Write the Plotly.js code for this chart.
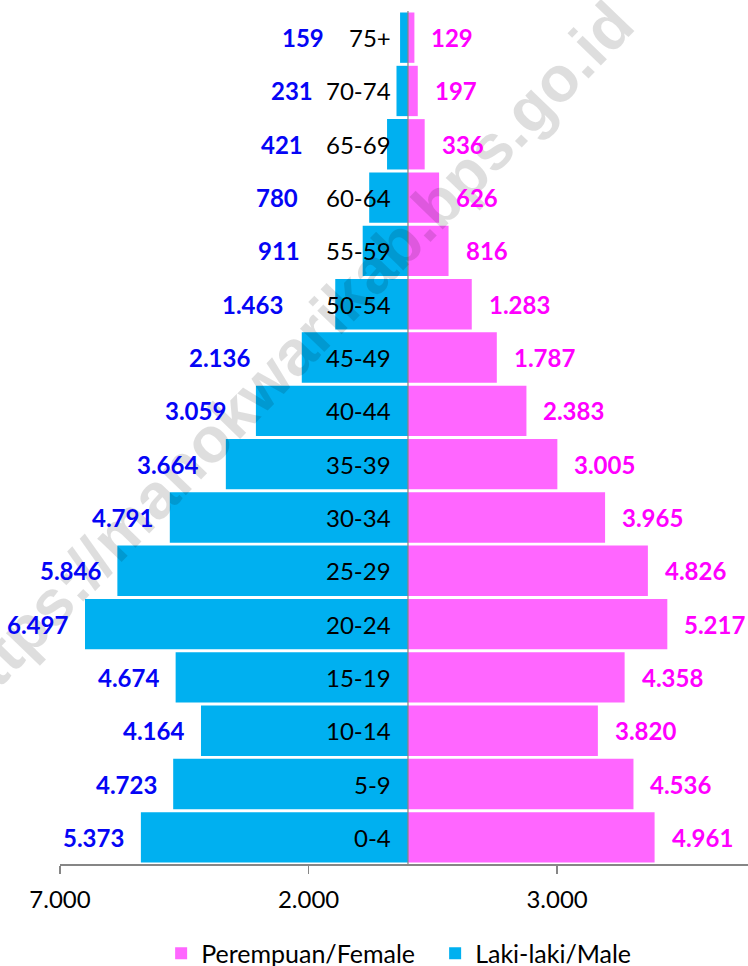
<!DOCTYPE html>
<html>
<head>
<meta charset="utf-8">
<script src="https://cdn.plot.ly/plotly-3.0.1.min.js"></script>
<style>
  html, body { margin: 0; padding: 0; background: #ffffff; }
  #chart { width: 748px; height: 966px; }
</style>
</head>
<body>
<div id="chart"></div>
<script>
// Population by age group and sex (persons)
const ageGroups = ["0-4", "5-9", "10-14", "15-19", "20-24", "25-29", "30-34", "35-39",
                   "40-44", "45-49", "50-54", "55-59", "60-64", "65-69", "70-74", "75+"];
const male   = [5373, 4723, 4164, 4674, 6497, 5846, 4791, 3664,
                3059, 2136, 1463, 911, 780, 421, 231, 159];
const female = [4961, 4536, 3820, 4358, 5217, 4826, 3965, 3005,
                2383, 1787, 1283, 816, 626, 336, 197, 129];
const seriesNames = ["Perempuan/Female", "Laki-laki/Male"];
const tickVals = [-7000, -2000, 3000];
const watermarkText = "https://manokwarikab.bps.go.id";

// Pixel gap between each male bar end and its value label (bottom to top)
const maleLabelGap = [17, 16, 17, 17, 17, 16, 17, 28, 30, 52, 52, 63, 71, 84, 83, 76];

// Thousands separator as a dot: 5373 -> "5.373"
function fmt(v) {
  return String(Math.abs(v)).replace(/\B(?=(\d{3})+(?!\d))/g, ".");
}

const W = 748, H = 966;
const M = { l: 60, r: 0, t: 11, b: 102, autoexpand: false };
const plotW = W - M.l - M.r, plotH = H - M.t - M.b;
const FONT = "Lato, Carlito, Calibri, 'Open Sans', sans-serif";
const AXIS_GREY = "#868686";

const traces = [
  {
    type: "bar", orientation: "h", name: seriesNames[0],
    y: ageGroups, x: female,
    marker: { color: "#FF66FF", line: { width: 0 } },
    hoverinfo: "skip"
  },
  {
    type: "bar", orientation: "h", name: seriesNames[1],
    y: ageGroups, x: male.map(v => -v),
    marker: { color: "#00B0F0", line: { width: 0 } },
    hoverinfo: "skip"
  }
];

const annotations = [];

// Diagonal site watermark (placed in pixel terms, converted to paper units)
const wmX = 288, wmY = 358;
annotations.push({
  xref: "paper", yref: "paper",
  x: (wmX - M.l) / plotW, y: (H - M.b - wmY) / plotH,
  xanchor: "center", yanchor: "middle",
  text: watermarkText, showarrow: false, textangle: -46,
  font: { family: "'Liberation Sans', Arial, sans-serif", size: 64, weight: 700, color: "rgba(0,0,0,0.13)" }
});

ageGroups.forEach((g, i) => {
  // age group label, right-aligned just left of the centre line
  annotations.push({
    xref: "x", yref: "y", x: 0, y: g, xanchor: "right", yanchor: "middle",
    xshift: -15, text: g, showarrow: false,
    font: { family: FONT, size: 24, color: "#000000" }
  });
  // male value label
  annotations.push({
    xref: "x", yref: "y", x: -male[i], y: g, xanchor: "right", yanchor: "middle",
    xshift: -maleLabelGap[i] + 2, text: fmt(male[i]), showarrow: false,
    font: { family: FONT, size: 24, weight: 700, color: "#0505F5" }
  });
  // female value label
  annotations.push({
    xref: "x", yref: "y", x: female[i], y: g, xanchor: "left", yanchor: "middle",
    xshift: 15, text: fmt(female[i]), showarrow: false,
    font: { family: FONT, size: 24, weight: 700, color: "#FF00FF" }
  });
});

const layout = {
  width: W, height: H,
  margin: M,
  paper_bgcolor: "#ffffff", plot_bgcolor: "#ffffff",
  font: { family: FONT, size: 24, color: "#000000" },
  barmode: "relative",
  bargap: 0.056,
  showlegend: true,
  legend: {
    orientation: "h", x: 0.147, xanchor: "left", y: -0.078, yanchor: "top",
    entrywidth: 229, entrywidthmode: "pixels",
    font: { family: FONT, size: 25, color: "#000000" },
    traceorder: "normal", bgcolor: "rgba(0,0,0,0)"
  },
  xaxis: {
    range: [-7000, 6840],
    showgrid: false, zeroline: false,
    showline: true, linecolor: AXIS_GREY, linewidth: 1.5,
    ticks: "outside", ticklen: 8, tickwidth: 1.5, tickcolor: AXIS_GREY,
    ticklabelstandoff: 6,
    tickvals: tickVals, ticktext: tickVals.map(fmt),
    tickfont: { family: FONT, size: 24, color: "#000000" },
    fixedrange: true
  },
  yaxis: {
    type: "category", categoryorder: "array", categoryarray: ageGroups,
    range: [-0.5, ageGroups.length - 0.5],
    showticklabels: false, showgrid: false, zeroline: false, showline: false,
    ticks: "", fixedrange: true
  },
  shapes: [{
    type: "line", xref: "x", yref: "paper", x0: 0, x1: 0, y0: 0, y1: 1,
    line: { color: AXIS_GREY, width: 1.25 }, layer: "above"
  }],
  annotations: annotations
};

Plotly.newPlot("chart", traces, layout, { displayModeBar: false, staticPlot: true });
</script>
</body>
</html>
